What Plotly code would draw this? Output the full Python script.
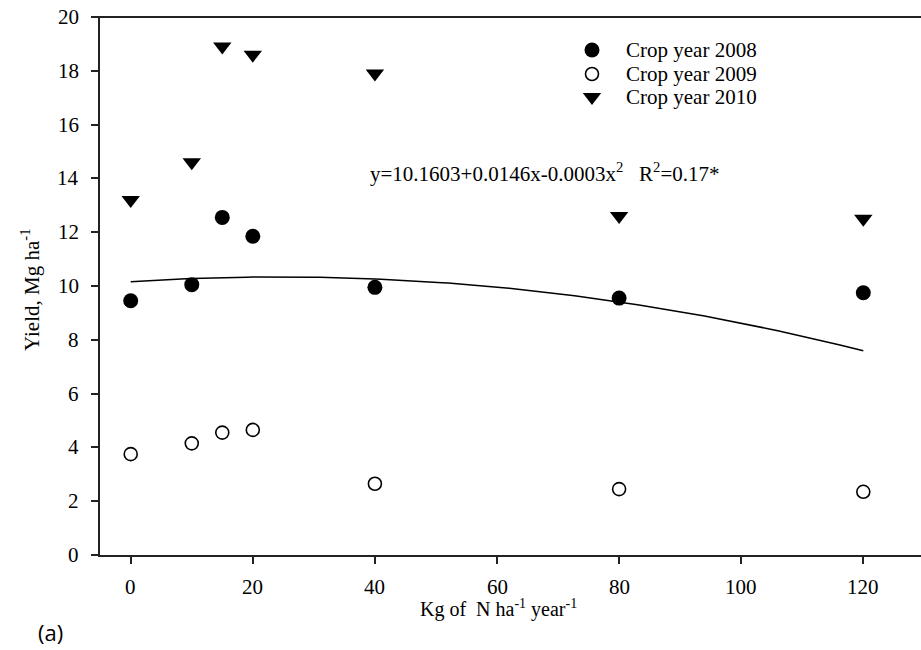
import numpy as np
import plotly.graph_objects as go

n_rate = [0, 10, 15, 20, 40, 80, 120]
yield_2008 = [9.45, 10.05, 12.55, 11.85, 9.95, 9.55, 9.75]
yield_2009 = [3.75, 4.15, 4.55, 4.65, 2.65, 2.45, 2.35]
yield_2010 = [13.2, 14.6, 18.9, 18.6, 17.9, 12.6, 12.5]
fit_coef = [10.1603, 0.0146, -0.0003]
series_names = ["Crop year 2008", "Crop year 2009", "Crop year 2010"]
x_ticks = [0, 20, 40, 60, 80, 100, 120]
y_ticks = [0, 2, 4, 6, 8, 10, 12, 14, 16, 18, 20]

SERIF = "Liberation Serif"
AX = "#222222"

W, H = 921, 650
L, R, T, B = 100, 0, 17, 95
PW, PH = W - L - R, H - T - B


def px(xp):
    return (xp - L) / PW


def py(yp):
    return (H - B - yp) / PH


fx = np.linspace(0, 120, 121)
fy = fit_coef[0] + fit_coef[1] * fx + fit_coef[2] * fx ** 2

styles = [
    dict(symbol="circle", size=15, color="black", line=dict(width=0)),
    dict(symbol="circle-open", size=13, color="black", line=dict(width=1.6, color="black")),
    dict(symbol="triangle-down", size=16, color="black", line=dict(width=0)),
]

fig = go.Figure()
fig.add_trace(go.Scatter(x=fx, y=fy, mode="lines", line=dict(color="black", width=1.5),
                         showlegend=False, hoverinfo="skip"))
for name, ys, st in zip(series_names, [yield_2008, yield_2009, yield_2010], styles):
    fig.add_trace(go.Scatter(x=n_rate, y=ys, mode="markers", name=name,
                             showlegend=False, marker=st))

# legend keys on a pixel-space overlay axis
leg_x_marker = 592
leg_x_text = 624
leg_rows = [50, 74, 97]
for i, st in enumerate(styles):
    fig.add_trace(go.Scatter(x=[leg_x_marker], y=[leg_rows[i]], mode="markers",
                             xaxis="x2", yaxis="y2", marker=st, showlegend=False,
                             hoverinfo="skip"))

shapes = [
    dict(type="line", xref="paper", yref="paper", x0=px(92), x1=1, y0=1, y1=1,
         line=dict(color=AX, width=2)),
    dict(type="line", xref="paper", yref="paper", x0=px(92), x1=0, y0=0, y1=0,
         line=dict(color=AX, width=2)),
]

annotations = [
    dict(text=series_names[i], xref="paper", yref="paper", x=px(leg_x_text), y=py(leg_rows[i]),
         xanchor="left", yanchor="middle", showarrow=False, font=dict(family=SERIF, size=21))
    for i in range(3)
]
# tick labels (serif), placed through the axis scales
annotations += [
    dict(text=str(v), xref="x", yref="paper", x=v, y=py(587), xanchor="center",
         yanchor="middle", showarrow=False, font=dict(family=SERIF, size=21))
    for v in x_ticks
]
annotations += [
    dict(text=str(v), xref="paper", yref="y", x=px(81), y=v, xanchor="right",
         yanchor="middle", showarrow=False, font=dict(family=SERIF, size=21))
    for v in y_ticks
]
annotations += [
    dict(text="y=10.1603+0.0146x-0.0003x<sup>2</sup>\u00a0\u00a0\u00a0R<sup>2</sup>=0.17*",
         xref="paper", yref="paper", x=px(544), y=py(172),
         xanchor="center", yanchor="middle", showarrow=False,
         font=dict(family=SERIF, size=21)),
    dict(text="(a)", xref="paper", yref="paper", x=px(50), y=py(632),
         xanchor="center", yanchor="middle", showarrow=False,
         font=dict(family="Open Sans", size=22)),
    dict(text="Kg of  N ha<sup>-1</sup> year<sup>-1</sup>", xref="paper", yref="paper",
         x=px(498), y=py(608), xanchor="center", yanchor="middle", showarrow=False,
         font=dict(family=SERIF, size=20)),
    dict(text="Yield, Mg ha<sup>-1</sup>", xref="paper", yref="paper", textangle=-90,
         x=px(30), y=py(290), xanchor="center", yanchor="middle", showarrow=False,
         font=dict(family=SERIF, size=21)),
]

fig.update_layout(
    width=W, height=H,
    margin=dict(l=L, r=R, t=T, b=B),
    plot_bgcolor="white", paper_bgcolor="white",
    font=dict(family=SERIF, size=20, color="black"),
    showlegend=False,
    xaxis=dict(range=[-5.03, 129.45], tickmode="array", tickvals=x_ticks,
               showticklabels=False,
               ticks="outside", ticklen=7, tickwidth=1.5, tickcolor=AX,
               showline=True, linecolor=AX, linewidth=2, showgrid=False, zeroline=False),
    yaxis=dict(range=[0, 20], tickmode="array", tickvals=y_ticks,
               showticklabels=False,
               ticks="outside", ticklen=7, tickwidth=1.5, tickcolor=AX,
               showline=True, linecolor=AX, linewidth=2, showgrid=False, zeroline=False),
    xaxis2=dict(overlaying="x", range=[L, W - R], visible=False, fixedrange=True),
    yaxis2=dict(overlaying="y", range=[H - B, T], visible=False, fixedrange=True),
    shapes=shapes,
    annotations=annotations,
)

fig.write_html("out.html")
